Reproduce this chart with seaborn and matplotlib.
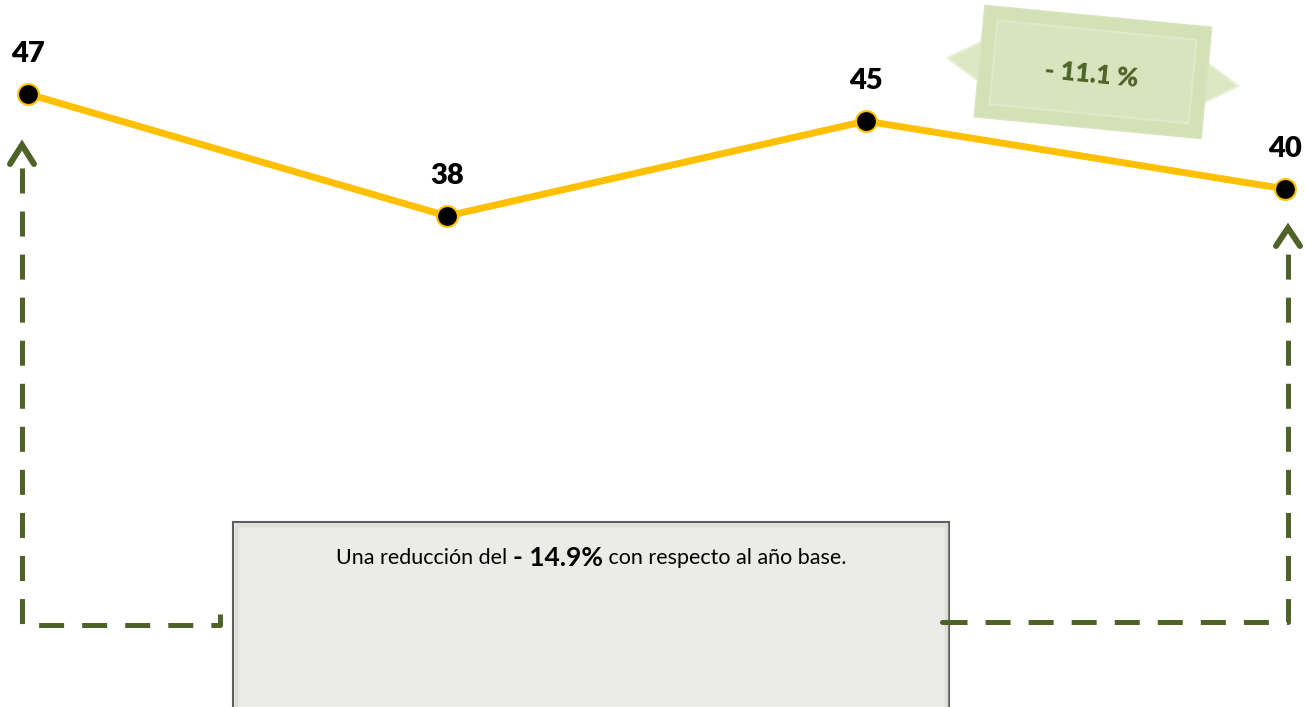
import numpy as np
import pandas as pd
import seaborn as sns
import matplotlib.pyplot as plt
from matplotlib.patches import Polygon, Rectangle

# datos del gráfico
periodos = [0, 1, 2, 3]
valores = [47, 38, 45, 40]
etiquetas = ['47', '38', '45', '40']
variacion_ultimo = '- 11.1 %'
texto_antes = 'Una reducción del '
texto_negrita = '- 14.9%'
texto_despues = ' con respecto al año base.'

sns.set_theme(style='white')
plt.rcParams['font.family'] = ['Lato', 'DejaVu Sans']
plt.rcParams['text.color'] = 'black'
plt.rcParams['lines.scale_dashes'] = False

W, H = 1306, 707
fig = plt.figure(figsize=(W / 100, H / 100), dpi=100)

# capa de decoraciones en coordenadas de pixel
deco = fig.add_axes([0, 0, 1, 1], zorder=0)
deco.set_xlim(0, W)
deco.set_ylim(H, 0)
deco.axis('off')

verde = '#4F6228'
lw_px = 5 * 0.72

# flecha punteada izquierda
deco.plot([22, 22, 220, 220], [168, 625, 625, 614], color=verde, lw=lw_px,
          linestyle=(0, (18, 13)), solid_capstyle='butt', dash_capstyle='butt')
deco.plot([10, 22, 34], [164, 145, 164], color=verde, lw=6 * 0.72,
          solid_capstyle='round', solid_joinstyle='miter')

# flecha punteada derecha
deco.plot([942, 1288, 1288], [622, 622, 245], color=verde, lw=lw_px,
          linestyle=(0, (18, 13)), solid_capstyle='butt', dash_capstyle='butt')
deco.plot([1276, 1288, 1300], [246, 228, 246], color=verde, lw=6 * 0.72,
          solid_capstyle='round', solid_joinstyle='miter')

# caja inferior
deco.add_patch(Rectangle((233, 522), 716, 200, facecolor='#EBECE7',
                         edgecolor='#5E5E5E', lw=1.5, zorder=1))
deco.add_patch(Rectangle((236, 525), 710, 200, facecolor='none',
                         edgecolor='#DCDED7', lw=2.5, zorder=1))
deco.plot([942, 949], [622, 622], color=verde, lw=lw_px, zorder=2)

# caja verde con flechas (-11.1 %)
cx, cy, ang = 1093, 72, np.deg2rad(5.5)
rot = np.array([[np.cos(ang), -np.sin(ang)], [np.sin(ang), np.cos(ang)]])


def transformar(puntos):
    p = np.array(puntos, dtype=float) @ rot.T
    return p + [cx, cy]


flecha_izq = [(-100, -28), (-146, 0), (-100, 28)]
flecha_der = [(100, -28), (146, 0), (100, 28)]
for f in (flecha_izq, flecha_der):
    deco.add_patch(Polygon(transformar(f), closed=True, facecolor='#DCE8C3',
                           edgecolor='#E8F0D6', lw=1.5, zorder=1))
rect_ext = [(-114, -56), (114, -56), (114, 56), (-114, 56)]
rect_int = [(-100, -42), (100, -42), (100, 42), (-100, 42)]
deco.add_patch(Polygon(transformar(rect_ext), closed=True, facecolor='#D3E1B6',
                       edgecolor='#D9E5C0', lw=1, zorder=2))
deco.add_patch(Polygon(transformar(rect_int), closed=True, facecolor='#D8E4BE',
                       edgecolor='#DFE9CA', lw=1.5, zorder=2))
deco.text(cx - 2, cy + 3, variacion_ultimo, rotation=-5.5, rotation_mode='anchor',
          ha='center', va='center', fontsize=18.5, fontweight='heavy',
          color=verde, zorder=3)

# gráfico de línea principal
ax = fig.add_axes([0, 0, 1, 1], zorder=2)
ax.patch.set_alpha(0)
df = pd.DataFrame({'periodo': periodos, 'valor': valores})
sns.lineplot(data=df, x='periodo', y='valor', ax=ax, color='#FFC000',
             linewidth=5, marker='o', markersize=15, markerfacecolor='black',
             markeredgecolor='#FFC000', markeredgewidth=1.5)
ax.set_xlim(-28 / 419, (W - 28) / 419)
ax.set_ylim(38 - (H - 216) / 13.56, 38 + 216 / 13.56)
ax.axis('off')
for x, y, t in zip(periodos, valores, etiquetas):
    ax.annotate(t, (x, y), xytext=(0, 29), textcoords='offset points',
                ha='center', va='center', fontsize=21, fontweight='heavy',
                color='black')

# texto de la caja inferior con partes en negrita
fig.canvas.draw()
r = fig.canvas.get_renderer()
ty = 558
t1 = deco.text(0, ty, texto_antes, fontsize=15.5, va='center', color='black', zorder=3)
t2 = deco.text(0, ty, texto_negrita, fontsize=19, fontweight='bold',
               va='center', color='black', zorder=3)
t3 = deco.text(0, ty, texto_despues, fontsize=15.5, va='center', color='black', zorder=3)
anchos = [t.get_window_extent(r).width for t in (t1, t2, t3)]
x0 = 591 - sum(anchos) / 2
for t, a in zip((t1, t2, t3), anchos):
    t.set_x(x0)
    x0 += a

fig.savefig('out.png', dpi=100)
